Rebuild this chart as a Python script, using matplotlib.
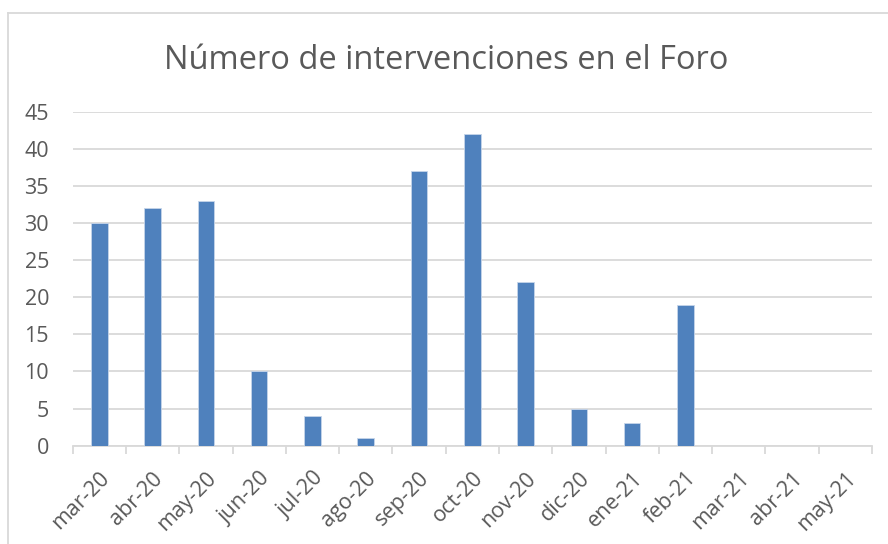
import matplotlib
matplotlib.use("Agg")
import matplotlib.pyplot as plt
from matplotlib.lines import Line2D
import numpy as np

meses = ["mar-20", "abr-20", "may-20", "jun-20", "jul-20", "ago-20", "sep-20", "oct-20",
         "nov-20", "dic-20", "ene-21", "feb-21", "mar-21", "abr-21", "may-21"]
intervenciones = [30, 32, 33, 10, 4, 1, 37, 42, 22, 5, 3, 19, 0, 0, 0]
yticks = [0, 5, 10, 15, 20, 25, 30, 35, 40, 45]

plt.rcParams['font.family'] = ['Open Sans', 'DejaVu Sans']
gris = "#595959"
linea = "#d9d9d9"

fig = plt.figure(figsize=(8.88, 5.44), dpi=100)
ax = fig.add_axes([0.0818, 0.1807, 0.9002, 0.614])

x = np.arange(len(meses))
ax.bar(x, intervenciones, width=0.31, color="#4f81bd", edgecolor="#c6d5ea", linewidth=0.6, zorder=3)

ax.set_xlim(-0.5, len(meses) - 0.5)
ax.set_ylim(0, 45)
ax.set_yticks(yticks)
ax.yaxis.grid(True, color=linea, linewidth=1.3, zorder=0)
ax.tick_params(axis="y", length=0, labelsize=15.5, labelcolor=gris, pad=17)

# ticks on category boundaries, labels centred on categories
ax.set_xticks(np.arange(len(meses) + 1) - 0.5)
ax.set_xticklabels([])
ax.set_xticks(x, minor=True)
ax.set_xticklabels(meses, minor=True, rotation=45, ha="right", rotation_mode="anchor",
                   fontsize=15.5, color=gris)
ax.tick_params(axis="x", which="major", length=6, width=1.3, color=linea, direction="out")
ax.tick_params(axis="x", which="minor", length=0, pad=16)

for s in ["top", "right", "left"]:
    ax.spines[s].set_visible(False)
ax.spines["bottom"].set_color(linea)
ax.spines["bottom"].set_linewidth(1.3)

fig.text(0.502, 0.888, "Número de intervenciones en el Foro", ha="center", va="center",
         fontsize=23.5, color=gris)

# chart frame (top and left edges visible in the crop)
fig.add_artist(Line2D([0.009, 1.0], [0.976, 0.976], color=linea, linewidth=1.3))
fig.add_artist(Line2D([0.009, 0.009], [0.0, 0.976], color=linea, linewidth=1.3))

fig.savefig("out.png", dpi=100)
